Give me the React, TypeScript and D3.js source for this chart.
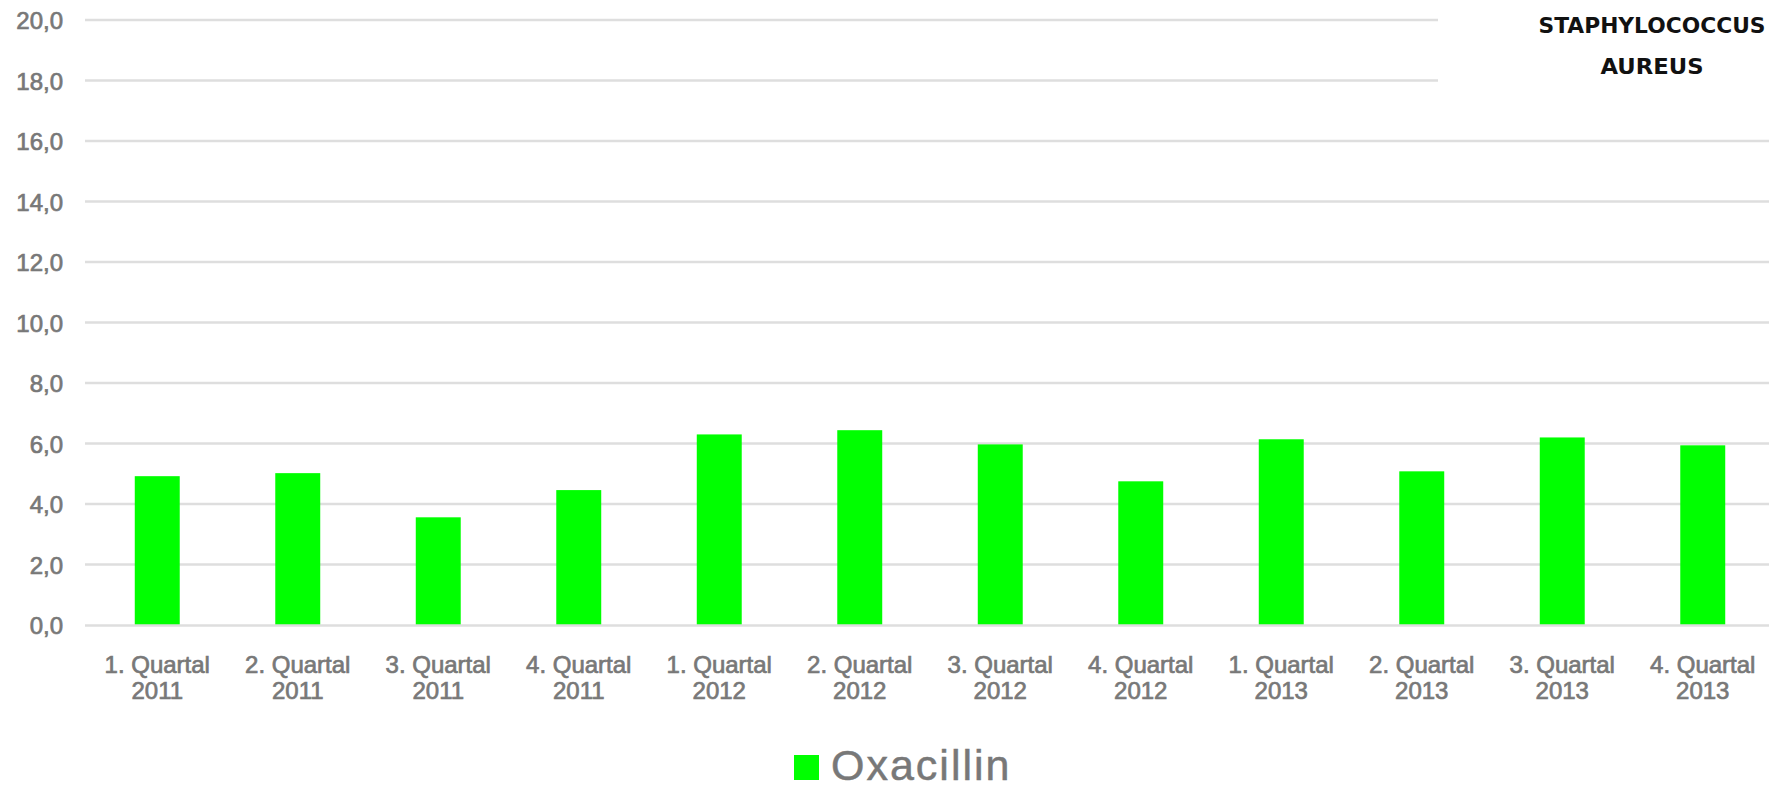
import * as d3 from 'd3';
import { useEffect, useRef } from 'react';

const quarters = [
  '1. Quartal', '2. Quartal', '3. Quartal', '4. Quartal',
  '1. Quartal', '2. Quartal', '3. Quartal', '4. Quartal',
  '1. Quartal', '2. Quartal', '3. Quartal', '4. Quartal',
];
const years = [
  '2011', '2011', '2011', '2011',
  '2012', '2012', '2012', '2012',
  '2013', '2013', '2013', '2013',
];
const oxacillin = [4.92, 5.02, 3.56, 4.46, 6.3, 6.44, 5.97, 4.75, 6.14, 5.08, 6.2, 5.94];
const yTicks = [0, 2, 4, 6, 8, 10, 12, 14, 16, 18, 20];
const titleLines = ['STAPHYLOCOCCUS', 'AUREUS'];
const seriesName = 'Oxacillin';

const WIDTH = 1769;
const HEIGHT = 788;
const GREEN = '#00ff00';
const GRID = '#dedede';
const TEXT = '#787878';

export default function App(): React.ReactElement {
  const svgRef = useRef<SVGSVGElement>(null);

  useEffect(() => {
    if (!svgRef.current) return;
    const svg = d3.select(svgRef.current);
    svg.selectAll('*').remove();

    const x = d3
      .scaleBand<number>()
      .domain(d3.range(oxacillin.length))
      .range([87, 1773])
      .paddingInner(0.68)
      .paddingOuter(0.34);

    const y = d3.scaleLinear().domain([0, 20]).range([625, 20]);

    // Grid lines (behind bars)
    svg
      .append('g')
      .selectAll('line')
      .data(yTicks.filter((t) => t !== 0))
      .enter()
      .append('line')
      .attr('x1', 85)
      .attr('x2', WIDTH)
      .attr('y1', (d) => y(d))
      .attr('y2', (d) => y(d))
      .attr('stroke', GRID)
      .attr('stroke-width', 2.7);

    // Bars
    svg
      .append('g')
      .selectAll('rect')
      .data(oxacillin)
      .enter()
      .append('rect')
      .attr('x', (_, i) => x(i)!)
      .attr('width', x.bandwidth())
      .attr('y', (d) => y(d))
      .attr('height', (d) => y(0) - y(d))
      .attr('fill', GREEN);

    // Zero line
    svg
      .append('line')
      .attr('x1', 85)
      .attr('x2', WIDTH)
      .attr('y1', y(0) + 0.5)
      .attr('y2', y(0) + 0.5)
      .attr('stroke', GRID)
      .attr('stroke-width', 2.7);

    // Y tick labels
    svg
      .append('g')
      .selectAll('text')
      .data(yTicks)
      .enter()
      .append('text')
      .attr('x', 63)
      .attr('y', (d) => y(d) + 9)
      .attr('text-anchor', 'end')
      .attr('fill', TEXT)
      .attr('stroke', TEXT)
      .attr('stroke-width', 0.7)
      .style('font-family', 'Arial, "Liberation Sans", sans-serif')
      .style('font-size', '24px')
      .text((d) => d.toFixed(1).replace('.', ','));

    // X labels (two lines)
    const xl = svg
      .append('g')
      .selectAll('text')
      .data(quarters)
      .enter()
      .append('text')
      .attr('text-anchor', 'middle')
      .attr('fill', TEXT)
      .attr('stroke', TEXT)
      .attr('stroke-width', 0.7)
      .style('font-family', 'Arial, "Liberation Sans", sans-serif')
      .style('font-size', '24px');
    xl.append('tspan')
      .attr('x', (_, i) => x(i)! + x.bandwidth() / 2)
      .attr('y', 673)
      .text((d) => d);
    xl.append('tspan')
      .attr('x', (_, i) => x(i)! + x.bandwidth() / 2)
      .attr('y', 699)
      .text((_, i) => years[i]);

    // Title box covering the grid
    svg
      .append('rect')
      .attr('x', 1438)
      .attr('y', 0)
      .attr('width', WIDTH - 1438)
      .attr('height', 110)
      .attr('fill', '#ffffff');

    svg
      .append('g')
      .selectAll('text')
      .data(titleLines)
      .enter()
      .append('text')
      .attr('x', 1652)
      .attr('y', (_, i) => 33 + i * 41)
      .attr('text-anchor', 'middle')
      .attr('fill', '#111111')
      .attr('textLength', (d) => (d.length > 6 ? 227 : 103))
      .attr('lengthAdjust', 'spacingAndGlyphs')
      .style('font-family', '"DejaVu Sans", sans-serif')
      .style('font-weight', 'bold')
      .style('font-size', '21px')
      .text((d) => d);

    // Legend
    const legend = svg.append('g');
    legend
      .append('rect')
      .attr('x', 794)
      .attr('y', 755)
      .attr('width', 25)
      .attr('height', 25)
      .attr('fill', GREEN);
    legend
      .append('text')
      .attr('x', 831)
      .attr('y', 780)
      .attr('fill', TEXT)
      .attr('stroke', TEXT)
      .attr('stroke-width', 0.5)
      .style('font-family', 'Arial, "Liberation Sans", sans-serif')
      .style('font-size', '43px')
      .style('letter-spacing', '2px')
      .text(seriesName);
  }, []);

  return (
    <svg
      ref={svgRef}
      width={WIDTH}
      height={HEIGHT}
      style={{ position: 'absolute', left: 0, top: 0, background: '#ffffff' }}
    />
  );
}
